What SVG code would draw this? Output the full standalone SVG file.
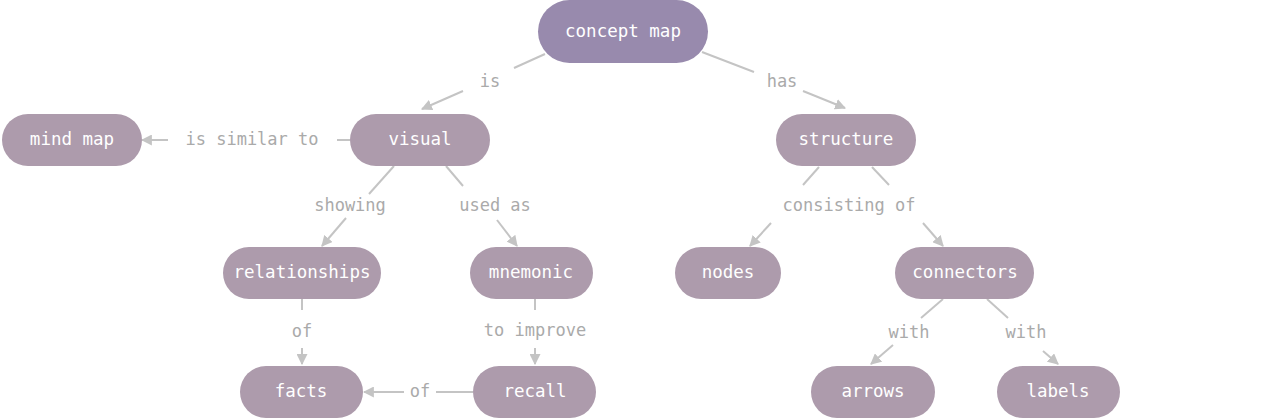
<svg xmlns="http://www.w3.org/2000/svg" width="1268" height="418" viewBox="0 0 1268 418">
<style>
.n rect{fill:#ad9bac}
.n.root rect{fill:#988aad}
.n text{fill:#ffffff;font-family:"DejaVu Sans Mono","Liberation Mono",monospace;font-size:17.5px;text-anchor:middle;dominant-baseline:central}
.e line{stroke:#c4c4c4;stroke-width:2;fill:none}
.e line.a{marker-end:url(#ah)}
.e text{fill:#aaaaaa;font-family:"DejaVu Sans Mono","Liberation Mono",monospace;font-size:17px;text-anchor:middle;dominant-baseline:central}
</style>
<defs>
<marker id="ah" viewBox="0 0 10 10" refX="9" refY="5" markerWidth="5.5" markerHeight="5.5" markerUnits="strokeWidth" orient="auto">
<path d="M0,0 L10,5 L0,10 z" fill="#c4c4c4"/>
</marker>
</defs>
<rect width="1268" height="418" fill="#ffffff"/>
<g id="connectors" class="e">
<line x1="545" y1="54" x2="514" y2="68"/>
<text x="490" y="81">is</text>
<line class="a" x1="463" y1="91" x2="422" y2="109"/>
<line x1="702" y1="52" x2="754" y2="72"/>
<text x="782" y="81">has</text>
<line class="a" x1="803" y1="91" x2="845" y2="108"/>
<line x1="350" y1="140" x2="337" y2="140"/>
<text x="252" y="139">is similar to</text>
<line class="a" x1="168" y1="140" x2="142" y2="140"/>
<line x1="394" y1="166" x2="369" y2="194"/>
<text x="350" y="205">showing</text>
<line class="a" x1="346" y1="218" x2="322" y2="246"/>
<line x1="446" y1="166" x2="463" y2="186"/>
<text x="495" y="205">used as</text>
<line class="a" x1="497" y1="220" x2="517" y2="246"/>
<line x1="302" y1="299" x2="302" y2="310"/>
<text x="302" y="331">of</text>
<line class="a" x1="302" y1="348" x2="302" y2="364"/>
<line x1="535" y1="299" x2="535" y2="310"/>
<text x="535" y="330">to improve</text>
<line class="a" x1="535" y1="348" x2="535" y2="364"/>
<line x1="473" y1="392" x2="436" y2="392"/>
<text x="420" y="391">of</text>
<line class="a" x1="404" y1="392" x2="364" y2="392"/>
<line x1="819" y1="167" x2="803" y2="185"/>
<line x1="872" y1="167" x2="889" y2="185"/>
<text x="849" y="205">consisting of</text>
<line class="a" x1="771" y1="223" x2="750" y2="246"/>
<line class="a" x1="923" y1="223" x2="943" y2="246"/>
<line x1="943" y1="299" x2="921" y2="318"/>
<text x="909" y="332">with</text>
<line class="a" x1="893" y1="345" x2="871" y2="364"/>
<line x1="987" y1="299" x2="1008" y2="318"/>
<text x="1026" y="332">with</text>
<line class="a" x1="1043" y1="351" x2="1058" y2="364"/>
</g>
<g id="concept-map" class="n root"><rect x="538" y="0" width="170" height="63" rx="31.5"/><text x="623" y="31">concept map</text></g>
<g id="mind-map" class="n"><rect x="2" y="114" width="140" height="52" rx="26"/><text x="72" y="139">mind map</text></g>
<g id="visual" class="n"><rect x="350" y="114" width="140" height="52" rx="26"/><text x="420" y="139">visual</text></g>
<g id="structure" class="n"><rect x="776" y="114" width="140" height="52" rx="26"/><text x="846" y="139">structure</text></g>
<g id="relationships" class="n"><rect x="223" y="247" width="158" height="52" rx="26"/><text x="302" y="272">relationships</text></g>
<g id="mnemonic" class="n"><rect x="470" y="247" width="123" height="52" rx="26"/><text x="531" y="272">mnemonic</text></g>
<g id="nodes" class="n"><rect x="675" y="247" width="106" height="52" rx="26"/><text x="728" y="272">nodes</text></g>
<g id="connectors-node" class="n"><rect x="895" y="247" width="139" height="52" rx="26"/><text x="965" y="272">connectors</text></g>
<g id="facts" class="n"><rect x="240" y="366" width="123" height="52" rx="26"/><text x="301" y="391">facts</text></g>
<g id="recall" class="n"><rect x="473" y="366" width="123" height="52" rx="26"/><text x="535" y="391">recall</text></g>
<g id="arrows" class="n"><rect x="811" y="366" width="124" height="52" rx="26"/><text x="873" y="391">arrows</text></g>
<g id="labels" class="n"><rect x="997" y="366" width="123" height="52" rx="26"/><text x="1058" y="391">labels</text></g>
</svg>
